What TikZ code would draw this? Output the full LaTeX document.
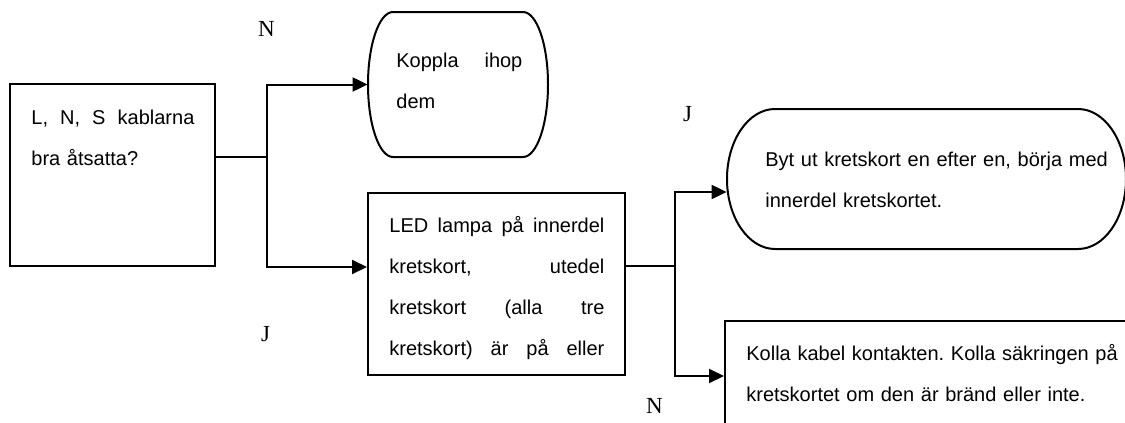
\documentclass[tikz,border=0pt]{standalone}
\usepackage{fontspec}
\setmainfont{Liberation Sans}
\newfontfamily\tagfont{Liberation Serif}
\usetikzlibrary{arrows.meta}

\tikzset{
  box/.style={draw, line width=1pt, inner sep=0pt},
  blank/.style={inner sep=0pt},
  body/.style={inner sep=0pt, anchor=base west, align=left,
    font=\fontsize{10pt}{20.5pt}\selectfont\frenchspacing},
  tag/.style={inner sep=0pt, anchor=base,
    font=\tagfont\fontsize{11.5pt}{12pt}\selectfont},
  link/.style={line width=1pt},
  flow/.style={link, -{Triangle[length=7.5pt,width=7pt]}},
}
% a justified line: words spread over the given width
\newcommand{\spread}[2]{\leavevmode\hbox to #1{\spaceskip=0.278em plus 1fil\relax #2}}

\begin{document}
\begin{tikzpicture}[x=0.5pt, y=-0.5pt]
  \useasboundingbox (0,0) rectangle (1125,423);
  \clip (0,0) rectangle (1125,423);

  % boxes
  \node[box, minimum width=102.5pt, minimum height=91pt] (question) at (112.5,175) {};
  \node[blank, minimum width=90pt, minimum height=72.5pt] (koppla) at (458,84.5) {};
  \node[box, minimum width=128.5pt, minimum height=91pt] (led) at (496.5,284) {};
  \node[blank, minimum width=199.5pt, minimum height=70pt] (bytut) at (926.5,179) {};
  \node[box, minimum width=207.5pt, minimum height=64.5pt] (kolla) at (932.5,385.5) {};

  % rounded outlines
  \draw[link] (393,12) -- (523,12)
    arc[start angle=-90, end angle=90, x radius=25, y radius=72.5] -- (393,157)
    arc[start angle=90, end angle=270, x radius=25, y radius=72.5] -- cycle;
  \draw[link] (775,109) -- (1078,109)
    arc[start angle=-90, end angle=90, x radius=48, y radius=70] -- (775,249)
    arc[start angle=90, end angle=270, x radius=48, y radius=70] -- cycle;

  % texts
  \node[body, text width=81.5pt] (questiontext) at (31,124)
    {\spread{81.5pt}{L, N, S kablarna}\\bra åtsatta?};
  \node[body, text width=63pt] (kopplatext) at (396,68)
    {\spread{63pt}{Koppla ihop}\\dem};
  \node[body, text width=107.5pt] (ledtext) at (389,232)
    {\spread{107.5pt}{LED lampa på innerdel}\\
     \spread{107.5pt}{kretskort, utedel}\\
     \spread{107.5pt}{kretskort (alla tre}\\
     \spread{107.5pt}{kretskort) är på eller}};
  \node[body, text width=180pt] (bytuttext) at (765,166)
    {Byt ut kretskort en efter en, börja med\\innerdel kretskortet.};
  \node[body, text width=190pt] (kollatext) at (746,360)
    {Kolla kabel kontakten. Kolla säkringen på\\kretskortet om den är bränd eller inte.};

  % branches
  \coordinate (fork1) at (266.5,157);
  \coordinate (fork2) at (675,266);
  \draw[link] (question.east |- fork1) -- (fork1);
  \draw[flow] (fork1) |- (koppla.west);
  \draw[flow] (fork1) |- (led.west |- question.south);
  \draw[link] (led.east |- fork2) -- (fork2);
  \draw[flow] (fork2) |- (bytut.west |- led.north);
  \draw[flow] (fork2) |- (kolla.west |- led.south);

  % answers
  \node[tag] (n1) at (266.5,36) {N};
  \node[tag] (j1) at (687.5,121) {J};
  \node[tag] (j2) at (265.5,341) {J};
  \node[tag] (n2) at (654.5,413) {N};
\end{tikzpicture}
\end{document}
